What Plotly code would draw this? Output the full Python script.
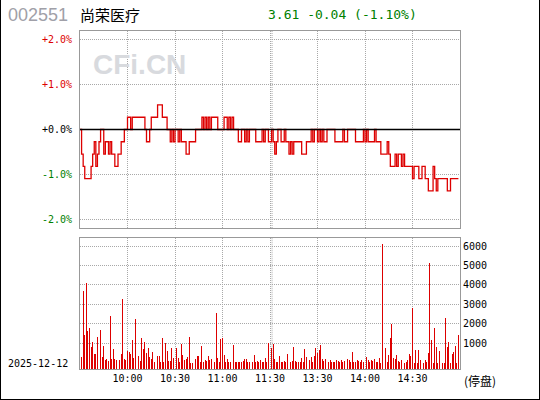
import plotly.graph_objects as go

# ---------------- data ----------------
PREV_CLOSE = 3.65

# minute-by-minute price, minute index 0 = 09:30 ... 240 = 15:00 (11:30/13:00 merged)
PRICE = [
    3.65, 3.63, 3.62, 3.61, 3.61, 3.61, 3.61, 3.62, 3.63, 3.64,
    3.62, 3.63, 3.64, 3.65, 3.65, 3.63, 3.64, 3.64, 3.63, 3.64,
    3.63, 3.63, 3.62, 3.62, 3.63, 3.63, 3.64, 3.64, 3.65, 3.65,
    3.66, 3.66, 3.65, 3.66, 3.66, 3.66, 3.66, 3.66, 3.66, 3.66,
    3.66, 3.65, 3.64, 3.64, 3.65, 3.66, 3.66, 3.66, 3.66, 3.67,
    3.67, 3.67, 3.66, 3.66, 3.66, 3.65, 3.65, 3.64, 3.65, 3.64,
    3.65, 3.65, 3.64, 3.65, 3.64, 3.64, 3.64, 3.63, 3.63, 3.64,
    3.64, 3.64, 3.64, 3.65, 3.65, 3.65, 3.65, 3.66, 3.65, 3.66,
    3.65, 3.66, 3.65, 3.66, 3.66, 3.66, 3.66, 3.65, 3.65, 3.65,
    3.65, 3.66, 3.66, 3.65, 3.66, 3.65, 3.66, 3.65, 3.65, 3.65,
    3.64, 3.64, 3.65, 3.65, 3.64, 3.65, 3.64, 3.65, 3.65, 3.65,
    3.65, 3.64, 3.64, 3.64, 3.64, 3.65, 3.64, 3.65, 3.65, 3.64,
    3.64, 3.65, 3.64, 3.63, 3.64, 3.65, 3.65, 3.64, 3.64, 3.65,
    3.64, 3.64, 3.63, 3.64, 3.63, 3.64, 3.64, 3.64, 3.64, 3.64,
    3.63, 3.63, 3.63, 3.64, 3.64, 3.64, 3.65, 3.64, 3.65, 3.65,
    3.64, 3.65, 3.64, 3.65, 3.64, 3.64, 3.65, 3.65, 3.65, 3.65,
    3.65, 3.64, 3.64, 3.64, 3.64, 3.64, 3.65, 3.64, 3.64, 3.65,
    3.65, 3.65, 3.65, 3.65, 3.64, 3.64, 3.64, 3.64, 3.64, 3.65,
    3.64, 3.65, 3.64, 3.64, 3.64, 3.64, 3.65, 3.64, 3.64, 3.64,
    3.63, 3.63, 3.63, 3.63, 3.64, 3.63, 3.62, 3.62, 3.62, 3.63,
    3.62, 3.63, 3.63, 3.62, 3.63, 3.62, 3.62, 3.62, 3.62, 3.62,
    3.61, 3.62, 3.62, 3.62, 3.61, 3.61, 3.62, 3.62, 3.61, 3.61,
    3.60, 3.60, 3.60, 3.62, 3.61, 3.60, 3.61, 3.61, 3.61, 3.61,
    3.61, 3.61, 3.60, 3.60, 3.61, 3.61, 3.61, 3.61, 3.61, 3.61,
]

# per-minute volume, minute 1 ... 240
VOLUME = [
    298, 3690, 1429, 4083, 1634, 1788, 812, 1069, 452, 452,
    1326, 247, 1686, 298, 863, 144, 195, 93, 2405, 195,
    709, 195, 144, 2148, 144, 452, 3279, 195, 144, 606,
    555, 452, 1172, 247, 2251, 1069, 349, 93, 1274, 709,
    1069, 504, 761, 298, 195, 555, 30, 1018, 349, 349,
    30, 1274, 30, 1018, 606, 93, 93, 761, 247, 247,
    761, 247, 30, 966, 401, 144, 195, 298, 1326, 0,
    0, 30, 195, 349, 349, 58, 863, 60, 144, 93,
    349, 144, 195, 40, 40, 2559, 247, 60, 1223, 1274,
    401, 40, 195, 60, 30, 40, 915, 30, 40, 30,
    30, 40, 93, 195, 195, 40, 30, 30, 60, 401,
    30, 93, 40, 144, 30, 40, 247, 60, 1018, 1120,
    761, 966, 195, 30, 60, 349, 30, 30, 93, 40,
    452, 60, 30, 93, 812, 93, 60, 30, 40, 247,
    60, 709, 298, 93, 144, 298, 60, 349, 761, 504,
    658, 915, 195, 93, 195, 144, 60, 144, 40, 20,
    40, 144, 93, 40, 144, 60, 93, 195, 195, 144,
    30, 555, 30, 60, 144, 93, 40, 144, 60, 195,
    298, 144, 40, 144, 93, 195, 40, 40, 247, 0,
    6107, 40, 761, 30, 401, 1274, 1995, 230, 195, 401,
    93, 40, 144, 30, 0, 20, 144, 452, 349, 2809,
    0, 658, 0, 658, 144, 40, 0, 144, 40, 504,
    5128, 1172, 0, 1788, 812, 0, 606, 144, 0, 0,
    2302, 812, 1069, 0, 452, 555, 863, 0, 1429, 0,
]

TICK_MINUTES = [30, 60, 90, 120, 150, 180, 210]
TICK_LABELS = ["10:00", "10:30", "11:00", "11:30", "13:30", "14:00", "14:30"]
PCT_LEVELS = [2, 1, 0, -1, -2]
PCT_LABELS = ["+2.0%", "+1.0%", "+0.0%", "-1.0%", "-2.0%"]
PRICE_LABELS = ["3.72", "3.69", "3.65", "3.61", "3.58"]
VOL_TICKS = [1000, 2000, 3000, 4000, 5000, 6000]
VOL_LABELS = ["1000", "2000", "3000", "4000", "5000", "6000"]

# ---------------- styles ----------------
RED = "#dd0000"
GREEN = "#008000"
GRID = "#a8a8a8"
FRAME = "#999999"
MONO = "DejaVu Sans Mono"
CJK = "Noto Sans CJK SC"
W, H = 540, 400
PCT_SPAN = 2.2          # top panel half-range in %
VOL_RANGE = [-336, 6396]


def col(p):
    return RED if p > 0 else (GREEN if p < 0 else "#000000")


lvl_prices = [PREV_CLOSE * (1 + p / 100) for p in PCT_LEVELS]
left_text = [f'<span style="color:{col(p)}">{t}</span>' for p, t in zip(PCT_LEVELS, PCT_LABELS)]
right_text = [f'<span style="color:{col(p)}">{t}</span>' for p, t in zip(PCT_LEVELS, PRICE_LABELS)]
prange = [PREV_CLOSE * (1 - PCT_SPAN / 100), PREV_CLOSE * (1 + PCT_SPAN / 100)]

fig = go.Figure()
fig.add_trace(go.Scatter(
    x=list(range(len(PRICE))), y=PRICE, mode="lines",
    line=dict(color=RED, width=1.3, shape="hv"),
    xaxis="x", yaxis="y", hoverinfo="skip", showlegend=False))
fig.add_trace(go.Bar(
    x=list(range(1, len(VOLUME) + 1)),
    y=[v - VOL_RANGE[0] for v in VOLUME], base=VOL_RANGE[0],
    marker=dict(color=RED, line=dict(width=0)), width=0.62,
    xaxis="x2", yaxis="y3", hoverinfo="skip", showlegend=False))

xdom = [80 / W, 460 / W]
top_dom = [1 - 228 / H, 1 - 31 / H]
bot_dom = [1 - 369.3 / H, 1 - 238.3 / H]
dash = "1px,1px"

common_x = dict(domain=xdom, range=[0, 240], tickvals=TICK_MINUTES, ticktext=TICK_LABELS,
                showgrid=True, gridcolor=GRID, griddash=dash, gridwidth=1,
                showline=True, linecolor=FRAME, linewidth=1, mirror=True,
                zeroline=False, ticks="", fixedrange=True)

fig.update_layout(
    width=W, height=H, margin=dict(l=0, r=0, t=0, b=0),
    paper_bgcolor="white", plot_bgcolor="white", bargap=0,
    xaxis=dict(anchor="y", showticklabels=False, **common_x),
    xaxis2=dict(anchor="y3", showticklabels=True,
                tickfont=dict(family=MONO, size=10, color="#000000"), **common_x),
    yaxis=dict(domain=top_dom, range=prange, tickvals=lvl_prices, ticktext=left_text,
               tickfont=dict(family=MONO, size=10, color="#000000"),
               showgrid=True, gridcolor=GRID, griddash=dash, zeroline=False,
               showline=True, linecolor=FRAME, linewidth=1, mirror=True,
               ticks="outside", ticklen=5, tickcolor="rgba(0,0,0,0)", anchor="x",
               fixedrange=True),
    yaxis2=dict(domain=top_dom, range=prange, overlaying="y", side="right", anchor="x",
                tickvals=lvl_prices, ticktext=right_text, showgrid=False, zeroline=False,
                tickfont=dict(family=MONO, size=10, color="#000000"), ticks="",
                fixedrange=True),
    yaxis3=dict(domain=bot_dom, range=VOL_RANGE, side="right", anchor="x2",
                tickvals=VOL_TICKS, ticktext=VOL_LABELS,
                tickfont=dict(family=MONO, size=10, color="#000000"),
                showgrid=True, gridcolor=GRID, griddash=dash, zeroline=False,
                showline=True, linecolor=FRAME, linewidth=1, mirror=True, ticks="",
                fixedrange=True),
)

shapes = [
    # previous-close line
    dict(type="line", xref="x domain", yref="y", x0=0, x1=1, y0=PREV_CLOSE, y1=PREV_CLOSE,
         line=dict(color="#000000", width=1.5)),
    # second line of the midday break
    dict(type="line", xref="x", yref="y domain", x0=121.3, x1=121.3, y0=0, y1=1,
         line=dict(color=GRID, width=1, dash=dash), layer="below"),
    dict(type="line", xref="x2", yref="y3 domain", x0=121.3, x1=121.3, y0=0, y1=1,
         line=dict(color=GRID, width=1, dash=dash), layer="below"),
    # outer border
    dict(type="line", xref="paper", yref="paper", x0=0, x1=0, y0=0, y1=1, line=dict(color="#000", width=2)),
    dict(type="line", xref="paper", yref="paper", x0=1, x1=1, y0=0, y1=1, line=dict(color="#000", width=2)),
    dict(type="line", xref="paper", yref="paper", x0=0, x1=1, y0=0, y1=0, line=dict(color="#000", width=2)),
]
fig.update_layout(shapes=shapes)


def ann(text, px, py, size, color, family, anchor="left", bold=False):
    fig.add_annotation(text=f"<b>{text}</b>" if bold else text, xref="paper", yref="paper",
                       x=px / W, y=1 - py / H, xanchor=anchor, yanchor="middle",
                       showarrow=False, font=dict(size=size, color=color, family=family))


ann("002551", 6, 15, 18, "#a0a0a8", "Liberation Sans")
ann("尚荣医疗", 78, 14, 15, "#000000", CJK)
ann("3.61 -0.04 (-1.10%)", 266, 15, 13, GREEN, MONO)
ann("CFi.CN", 91, 64, 28, "#d8dade", "Liberation Sans", bold=True)
ann("2025-12-12", 6, 363, 10, "#000000", MONO)
ann("(停盘)", 462, 380, 12, "#000000", CJK)

fig.write_html(
    "out.html",
    config={"displayModeBar": False, "staticPlot": True},
    post_script="document.body.style.margin='0';document.body.style.overflow='hidden';",
)
